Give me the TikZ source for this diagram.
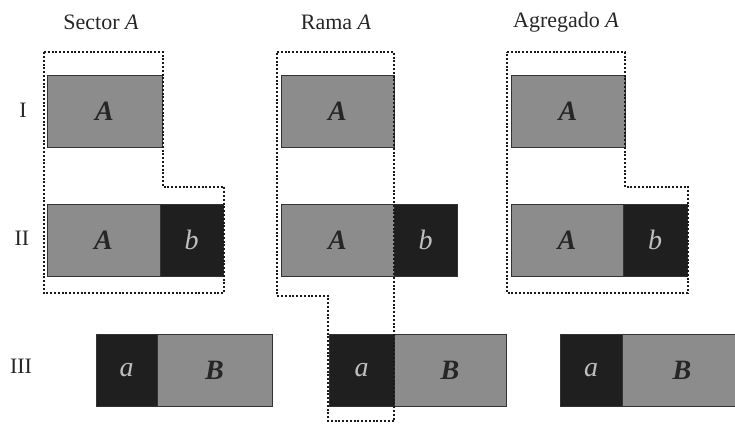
\documentclass[tikz,border=0pt]{standalone}
\usepackage{fontspec}
\setmainfont{Liberation Serif}
\begin{document}
\begin{tikzpicture}[x=1pt,y=-1pt,
  cell/.style={draw=black!80, line width=1pt, inner sep=0pt, outer sep=0pt,
    anchor=north west, minimum height=72pt},
  greycell/.style={cell, fill=black!45, text=black!85,
    font=\fontsize{28}{28}\selectfont\bfseries\itshape},
  darkcell/.style={cell, fill=black!88, text=black!25,
    font=\fontsize{28}{28}\selectfont\itshape},
  outline/.style={draw=black!90, line width=2.3pt, dash pattern=on 2pt off 1.8pt},
  coltitle/.style={font=\fontsize{22}{22}\selectfont, text=black!85},
  rowtitle/.style={font=\fontsize{22}{22}\selectfont, text=black!85}]
\useasboundingbox (0,0) rectangle (735,423);
\clip (0,0) rectangle (735,423);

% column headings
\node[coltitle] (tS) at (101,22) {Sector \textit{A}};
\node[coltitle] (tR) at (336,22) {Rama \textit{A}};
\node[coltitle] (tG) at (566,22) {Agregado \textit{A}};

% row headings
\node[rowtitle] (r1) at (23,110) {I};
\node[rowtitle] (r2) at (22,238) {II};
\node[rowtitle] (r3) at (21,366) {III};

% Sector A
\node[greycell, minimum width=115pt] (sA1) at (47,75) {A};
\node[greycell, minimum width=113pt] (sA2) at (47,204) {A};
\node[darkcell, minimum width=63pt]  (sb2) at (160,204) {b};
\node[darkcell, minimum width=61pt]  (sa3) at (96,334) {a};
\node[greycell, minimum width=115pt] (sB3) at (157,334) {B};
\draw[outline] (44,52) -- (163,52) -- (163,187) -- (224,187) -- (224,293) -- (44,293) -- cycle;

% Rama A
\node[greycell, minimum width=113pt] (rA1) at (281,75) {A};
\node[greycell, minimum width=113pt] (rA2) at (281,204) {A};
\node[darkcell, minimum width=63pt]  (rb2) at (394,204) {b};
\node[darkcell, minimum width=65pt]  (ra3) at (329,334) {a};
\node[greycell, minimum width=112pt] (rB3) at (394,334) {B};
\draw[outline] (277,52) -- (394,52) -- (394,421) -- (328,421) -- (328,296) -- (277,296) -- cycle;

% Agregado A
\node[greycell, minimum width=114pt] (gA1) at (511,75) {A};
\node[greycell, minimum width=112pt] (gA2) at (511,204) {A};
\node[darkcell, minimum width=64pt]  (gb2) at (623,204) {b};
\node[darkcell, minimum width=62pt]  (ga3) at (560,334) {a};
\node[greycell, minimum width=120pt] (gB3) at (622,334) {B};
\draw[outline] (507,52) -- (625,52) -- (625,187) -- (688,187) -- (688,293) -- (507,293) -- cycle;
\end{tikzpicture}
\end{document}
